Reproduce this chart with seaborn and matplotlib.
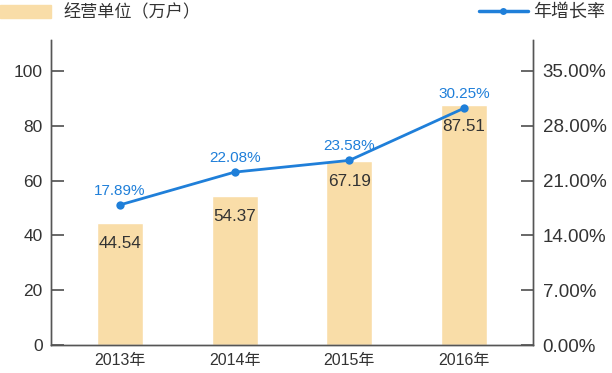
import numpy as np
import pandas as pd
import matplotlib
matplotlib.use("Agg")
import matplotlib.pyplot as plt
import seaborn as sns
from matplotlib.patches import Patch
from matplotlib.lines import Line2D

# Data
years = ["2013年", "2014年", "2015年", "2016年"]
units = [44.54, 54.37, 67.19, 87.51]          # 经营单位（万户）
growth = [17.89, 22.08, 23.58, 30.25]         # 年增长率 (%)
left_ticks = [0, 20, 40, 60, 80, 100]
right_ticks = [0, 7, 14, 21, 28, 35]

bar_color = "#F9DDA8"
line_color = "#1F7FD9"
text_color = "#333333"
spine_color = "#555555"

sns.set_theme(style="white")
plt.rcParams["font.family"] = ["Liberation Sans", "Noto Sans CJK SC", "DejaVu Sans"]

df = pd.DataFrame({"year": years, "units": units, "growth": growth})

fig = plt.figure(figsize=(6.12, 3.73), dpi=100)
ax = fig.add_axes([51 / 612, 28 / 373, (533 - 51) / 612, (345 - 40) / 373])

sns.barplot(data=df, x="year", y="units", color=bar_color, width=0.4,
            saturation=1, ax=ax)
ax.set_xlim(-0.6, 3.6)
ymax = 111.3
ax.set_ylim(0, ymax)
ax.set_yticks(left_ticks)
ax.set_xlabel("")
ax.set_ylabel("")

for i, v in enumerate(units):
    ax.annotate(f"{v:.2f}", (i, v), xytext=(0, -15), textcoords="offset points",
                ha="center", va="center", fontsize=12.3, color=text_color)

ax2 = ax.twinx()
sns.lineplot(x=np.arange(len(years)), y=growth, color=line_color, lw=2,
             marker="o", markersize=6, markeredgewidth=0, ax=ax2)
ax2.set_ylim(0, ymax * 0.35)
ax2.set_yticks(right_ticks)
ax2.set_yticklabels([f"{t:.2f}%" for t in right_ticks])
for i, v in enumerate(growth):
    ax2.annotate(f"{v:.2f}%", (i, v), xytext=(0, 10), textcoords="offset points",
                 ha="center", va="center", fontsize=11, color=line_color)

# x ticks at category boundaries, labels at category centres
ax.set_xticks([0.5, 1.5, 2.5])
ax.set_xticklabels([])
ax.set_xticks(range(len(years)), minor=True)
ax.set_xticklabels(years, minor=True)
ax.tick_params(axis="x", which="major", direction="in", length=7, color=spine_color)
ax.tick_params(axis="x", which="minor", length=0, labelsize=11.5, labelcolor=text_color, pad=6)
ax.tick_params(axis="y", direction="in", length=9, color=spine_color,
               labelsize=12.5, labelcolor=text_color, left=True, pad=6)
ax2.tick_params(axis="y", direction="in", length=9, color=spine_color,
                labelsize=13.5, labelcolor=text_color, right=True, pad=7)

for a in (ax, ax2):
    a.spines["top"].set_visible(False)
    for s in ("left", "right", "bottom"):
        a.spines[s].set_color(spine_color)
        a.spines[s].set_linewidth(1)
    a.grid(False)

# Legends at top
fig.legend(handles=[Patch(color=bar_color)], labels=["经营单位（万户）"],
           loc="upper left", bbox_to_anchor=(0, 1 - 4 / 373), frameon=False,
           borderpad=0, borderaxespad=0,
           fontsize=12.3, handlelength=3.0, handleheight=0.8, handletextpad=0.7,
           labelcolor=text_color)
fig.legend(handles=[Line2D([0], [0], color=line_color, lw=2.5, marker="o",
                           markersize=5, markeredgewidth=0)],
           labels=["年增长率"], loc="upper right", bbox_to_anchor=(605 / 612, 1 - 4 / 373),
           frameon=False, borderpad=0, borderaxespad=0,
           fontsize=13, handlelength=2.7, handletextpad=0.3,
           labelcolor=text_color)

fig.savefig("out.png", dpi=100)
